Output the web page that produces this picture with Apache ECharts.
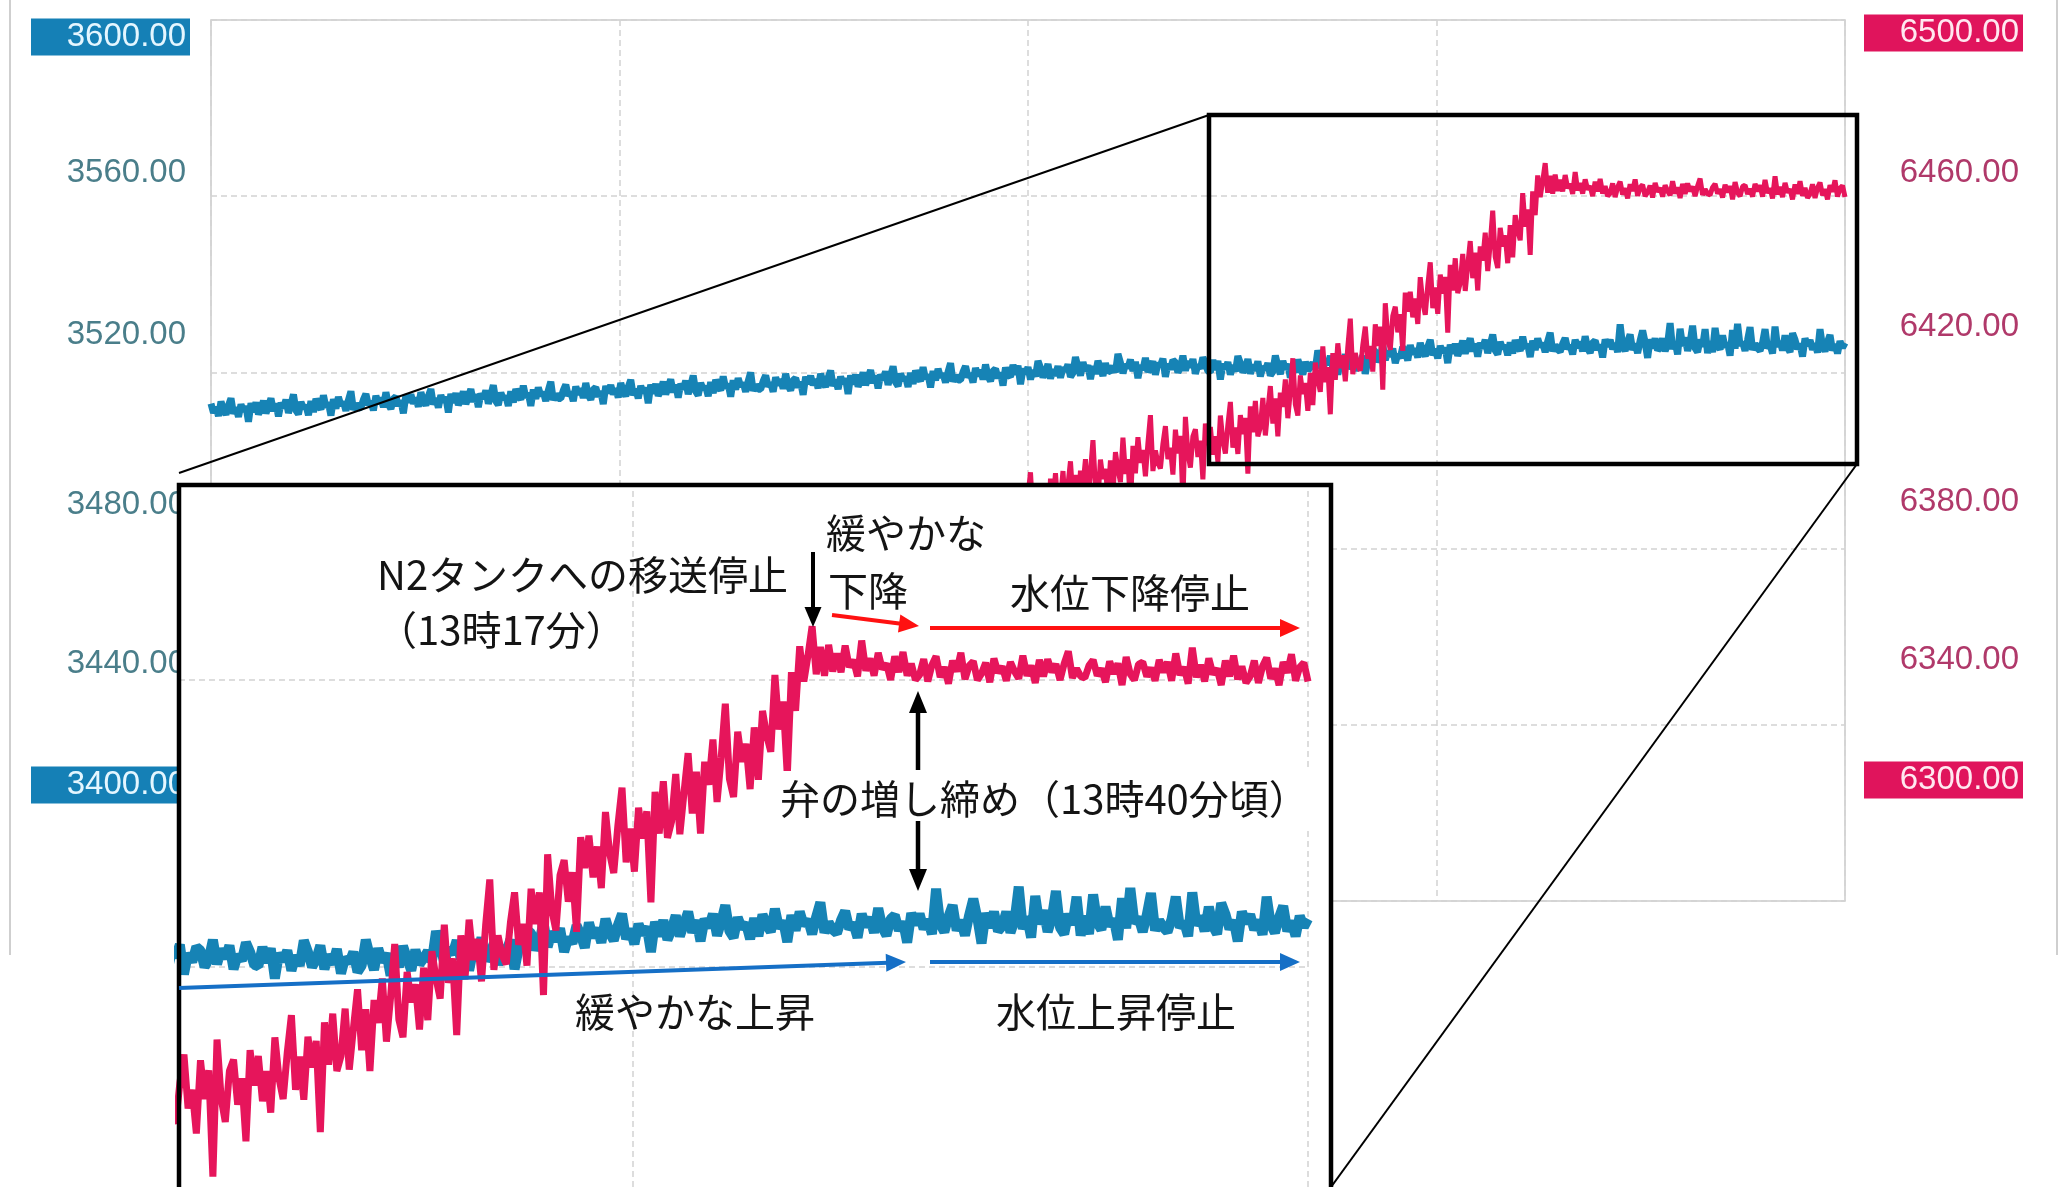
<!DOCTYPE html>
<html><head><meta charset="utf-8">
<script src="https://cdn.jsdelivr.net/npm/echarts@6/dist/echarts.min.js"></script>
<style>html,body{margin:0;padding:0;background:#fff;}#c{width:2069px;height:1187px;}</style>
</head><body><div id="c"></div>
<script>
// ---------- data ----------
const leftTicks  = ['3400.00','3440.00','3480.00','3520.00','3560.00','3600.00'];
const rightTicks = ['6300.00','6340.00','6380.00','6420.00','6460.00','6500.00'];
const leftRange  = [3400, 3600];
const rightRange = [6300, 6500];

// blue trace (left axis), one sample per time step 0..654
const blueLevel = [
3512.9,3510.8,3512.1,3510.1,3513.4,3511.5,3510.4,3512.5,3514.1,3510.6,3512.0,3509.9,3512.7,3511.2,3512.3,3508.8,3513.0,3511.0,3513.2,3510.5,
3511.6,3513.6,3510.7,3512.4,3514.1,3511.2,3512.9,3510.0,3513.1,3511.9,3513.8,3510.8,3512.7,3515.0,3511.4,3510.5,3513.3,3511.8,3512.5,3510.3,
3513.5,3511.0,3514.0,3512.6,3511.6,3514.8,3512.1,3513.1,3510.2,3513.9,3511.8,3514.4,3512.5,3513.3,3511.3,3513.7,3515.7,3511.5,3512.9,3511.9,
3512.0,3513.8,3515.1,3512.6,3513.4,3511.4,3514.7,3512.9,3514.2,3512.1,3515.5,3512.8,3511.7,3514.0,3514.5,3512.4,3513.6,3510.7,3514.8,3513.2,
3515.0,3512.9,3514.2,3512.2,3515.5,3513.6,3512.5,3514.6,3516.2,3512.7,3514.1,3512.0,3514.8,3513.3,3514.4,3510.9,3515.1,3513.1,3515.3,3512.6,
3513.7,3515.7,3512.8,3514.5,3516.2,3513.3,3515.0,3512.1,3515.2,3514.0,3515.9,3512.9,3514.8,3517.1,3513.5,3512.6,3515.4,3513.9,3514.6,3512.4,
3515.7,3513.2,3516.2,3514.8,3513.8,3517.0,3514.3,3515.3,3512.4,3516.1,3514.0,3516.6,3514.7,3515.5,3513.5,3515.9,3517.9,3513.7,3515.1,3514.1,
3514.1,3515.9,3517.2,3514.7,3515.5,3513.5,3516.8,3515.0,3516.3,3514.2,3517.6,3514.9,3513.8,3516.1,3516.6,3514.5,3515.7,3512.8,3516.9,3515.3,
3517.1,3515.0,3516.3,3514.3,3517.6,3515.7,3514.6,3516.7,3518.3,3514.8,3516.2,3514.1,3516.9,3515.4,3516.5,3513.0,3517.2,3515.2,3517.4,3514.7,
3515.9,3517.9,3515.0,3516.7,3518.4,3515.5,3517.2,3514.3,3517.4,3516.2,3518.1,3515.1,3517.0,3519.3,3515.7,3514.8,3517.6,3516.1,3516.8,3514.6,
3517.8,3515.3,3518.3,3516.9,3515.9,3519.1,3516.4,3517.4,3514.5,3518.2,3516.1,3518.7,3516.8,3517.6,3515.6,3518.0,3520.0,3515.8,3517.2,3516.2,
3516.2,3518.0,3519.3,3516.8,3517.6,3515.6,3518.9,3517.1,3518.4,3516.3,3519.7,3517.0,3515.9,3518.2,3518.7,3516.6,3517.8,3514.9,3519.0,3517.4,
3519.2,3517.1,3518.4,3516.4,3519.7,3517.8,3516.7,3518.8,3520.4,3516.9,3518.3,3516.2,3519.0,3517.5,3518.6,3515.1,3519.3,3517.3,3519.5,3516.8,
3518.0,3520.0,3517.1,3518.8,3520.5,3517.6,3519.3,3516.4,3519.5,3518.3,3520.2,3517.2,3519.1,3521.4,3517.8,3516.9,3519.7,3518.2,3518.9,3516.7,
3519.9,3517.4,3520.4,3519.0,3518.0,3521.2,3518.5,3519.5,3516.6,3520.3,3518.2,3520.8,3518.9,3519.7,3517.7,3520.1,3522.1,3517.9,3519.3,3518.3,
3518.3,3520.1,3521.4,3518.9,3519.7,3517.7,3521.0,3519.2,3520.5,3518.4,3521.8,3519.1,3518.0,3520.3,3520.8,3518.7,3519.9,3517.0,3521.1,3519.5,
3519.0,3521.7,3519.5,3521.5,3517.3,3520.8,3519.7,3521.2,3518.4,3520.5,3519.1,3522.6,3521.0,3518.9,3520.0,3521.9,3518.6,3520.6,3519.3,3521.4,
3518.8,3521.0,3520.3,3521.8,3519.0,3519.9,3523.5,3521.2,3519.3,3522.3,3520.4,3521.6,3518.5,3521.4,3519.7,3522.6,3520.9,3519.2,3522.1,3520.1,
3520.4,3521.4,3520.0,3524.2,3522.2,3519.8,3521.8,3521.0,3522.9,3520.3,3522.4,3518.7,3521.6,3520.6,3523.3,3520.1,3521.1,3522.5,3519.5,3522.0,
3521.5,3523.1,3519.0,3521.9,3520.7,3522.8,3522.3,3520.0,3521.1,3523.8,3520.4,3522.5,3521.2,3523.0,3519.7,3521.7,3520.9,3523.4,3522.1,3520.3,
3520.1,3522.8,3520.6,3522.6,3518.4,3521.9,3520.8,3522.3,3519.5,3521.6,3520.2,3523.7,3522.1,3520.0,3521.1,3523.0,3519.7,3521.7,3520.4,3522.5,
3519.1,3521.3,3520.6,3522.1,3519.3,3520.2,3523.8,3521.5,3519.6,3522.6,3520.7,3521.9,3518.8,3521.7,3520.0,3522.9,3521.2,3519.5,3522.4,3520.4,
3521.2,3522.2,3520.8,3525.0,3523.0,3520.6,3522.6,3521.8,3523.7,3521.1,3523.2,3519.5,3522.4,3521.4,3524.1,3520.9,3521.9,3523.3,3520.3,3522.8,
3522.2,3523.8,3519.7,3522.6,3523.1,3525.2,3524.7,3522.4,3523.5,3526.2,3522.8,3524.9,3523.6,3525.4,3522.1,3524.1,3523.3,3525.8,3524.5,3522.7,
3526.2,3524.1,3525.4,3523.4,3526.7,3524.8,3523.7,3525.8,3527.4,3523.9,3525.3,3523.2,3526.0,3524.5,3525.6,3522.1,3526.3,3524.3,3526.5,3523.8,
3525.2,3527.2,3524.3,3526.0,3527.7,3524.8,3526.5,3523.6,3526.7,3525.5,3527.4,3524.4,3526.3,3528.6,3525.0,3524.1,3526.9,3525.4,3526.1,3523.9,
3526.8,3524.3,3527.3,3525.9,3524.9,3528.1,3525.4,3526.4,3523.5,3527.2,3525.1,3527.7,3525.8,3526.6,3524.6,3527.0,3529.0,3524.8,3526.2,3525.2,
3524.7,3526.5,3527.8,3525.3,3526.1,3524.1,3527.4,3525.6,3526.9,3524.8,3528.2,3525.5,3524.4,3526.7,3527.2,3525.1,3526.3,3523.4,3527.5,3525.9,
3527.4,3525.3,3526.6,3524.6,3530.9,3526.0,3524.9,3527.0,3528.6,3525.1,3526.5,3524.4,3527.2,3529.5,3526.8,3523.3,3527.5,3525.5,3527.7,3525.0,
3525.7,3527.7,3524.8,3526.5,3531.2,3525.3,3527.0,3524.1,3529.9,3526.0,3527.9,3524.9,3526.8,3530.6,3525.5,3524.6,3527.4,3525.9,3529.8,3524.4,
3527.1,3524.6,3530.1,3526.2,3525.2,3528.4,3525.7,3526.7,3523.8,3529.6,3525.4,3531.0,3526.1,3526.9,3524.9,3527.3,3530.3,3525.1,3526.5,3525.5,
3524.9,3526.7,3529.8,3525.5,3526.3,3524.3,3530.4,3525.8,3527.1,3525.0,3528.4,3525.7,3524.6,3528.9,3527.4,3525.3,3526.5,3523.6,3527.7,3526.1,
3527.3,3525.2,3526.5,3524.5,3529.8,3525.9,3524.8,3526.9,3528.5,3525.0,3526.4,3524.3,3527.1,3525.6,3526.7
];

// red trace (right axis), starts at time step 320
const redStart = 320;
const redLevel = [
6391.7,6385.6,6389.7,6383.9,6394.3,6388.6,6385.6,6392.2,6397.3,6386.9,6391.4,6385.4,6394.1,6389.8,6393.4,6380.7,6395.9,6390.1,6397.1,6389.1,
6391.1,6397.6,6388.9,6394.5,6399.8,6391.2,6396.7,6388.0,6397.7,6394.3,6400.3,6391.4,6397.4,6404.6,6393.9,6391.2,6400.2,6395.8,6398.1,6391.6,
6400.0,6392.5,6401.9,6398.0,6395.1,6405.2,6397.0,6400.3,6389.5,6403.3,6397.1,6405.3,6399.5,6402.4,6396.4,6404.0,6410.3,6397.6,6402.3,6399.4,
6398.2,6403.8,6407.8,6400.3,6402.9,6396.8,6407.0,6401.6,6405.6,6390.8,6409.9,6401.7,6398.4,6405.5,6407.1,6400.8,6404.5,6395.7,6408.4,6403.5,
6407.6,6401.3,6405.5,6399.7,6410.2,6404.5,6401.6,6408.1,6413.3,6402.9,6407.5,6401.5,6410.3,6406.0,6409.7,6397.0,6412.3,6406.4,6413.5,6405.5,
6407.6,6414.2,6405.7,6411.4,6416.9,6408.4,6414.1,6405.5,6415.4,6412.2,6418.4,6409.6,6415.8,6423.2,6412.7,6410.2,6419.3,6415.1,6417.6,6411.3,
6419.9,6412.6,6422.2,6418.4,6415.6,6425.9,6417.8,6421.2,6410.5,6424.4,6418.3,6426.6,6421.0,6423.9,6418.0,6425.8,6432.2,6419.6,6424.4,6421.6,
6420.4,6426.2,6430.4,6423.1,6426.0,6420.2,6430.9,6426.0,6430.4,6416.1,6435.7,6428.0,6425.1,6432.8,6434.9,6429.1,6433.2,6424.9,6438.1,6433.8,
6438.3,6432.5,6436.8,6431.0,6441.6,6435.9,6433.1,6439.7,6445.0,6434.6,6439.3,6433.3,6442.2,6437.9,6441.7,6429.0,6444.4,6438.6,6445.9,6438.0,
6440.3,6446.9,6438.5,6444.3,6449.8,6441.4,6447.2,6438.6,6448.6,6445.4,6451.7,6443.0,6449.2,6456.7,6446.2,6443.7,6452.8,6448.6,6451.1,6444.8,
6453.4,6446.1,6455.7,6452.3,6450.0,6460.7,6453.1,6457.0,6446.7,6461.1,6455.7,6464.7,6459.8,6463.4,6467.5,6460.8,6464.6,6460.6,6464.9,6461.2,
6463.7,6461.1,6464.8,6461.8,6462.8,6460.5,6465.5,6461.3,6463.0,6460.6,6463.8,6461.5,6462.3,6460.0,6463.3,6461.1,6463.9,6460.6,6462.3,6460.0,
6460.7,6462.9,6459.8,6462.1,6463.3,6460.4,6461.8,6459.5,6462.7,6461.2,6463.8,6460.1,6462.0,6462.6,6460.0,6460.9,6462.4,6459.7,6463.0,6461.0,
6461.9,6459.9,6462.5,6461.2,6460.2,6463.4,6460.6,6462.0,6459.6,6462.8,6460.5,6462.9,6461.1,6462.2,6460.0,6462.3,6464.0,6460.3,6461.6,6460.5,
6460.3,6462.0,6462.8,6460.6,6461.6,6459.7,6462.6,6460.9,6462.3,6459.3,6463.2,6460.8,6460.0,6462.2,6462.5,6460.5,6461.7,6459.9,6462.8,6461.1,
6462.5,6459.9,6463.7,6460.7,6461.8,6459.5,6464.5,6460.4,6462.1,6459.8,6463.0,6460.8,6461.6,6459.3,6462.7,6460.5,6463.4,6460.1,6461.9,6459.6,
6460.5,6462.7,6459.6,6461.9,6463.1,6460.2,6461.6,6459.3,6462.5,6461.0,6463.6,6459.9,6461.8,6462.4,6459.8
];

const timeMax = 654;              // last time step
const timeGrid = 163.5;           // vertical grid spacing (time steps)
const insetTime = [380.8, 654];   // time window shown in the magnified inset
const insetLeft = [3489.34, 3587.18];
const insetRight = [6389.34, 6487.18];
const insetGridLeft = [3520, 3560];

const texts = {
  stop: 'N2タンクへの移送停止', stopTime: '（13時17分）',
  slowA: '緩やかな', slowB: '下降', lvlDownStop: '水位下降停止',
  valve: '弁の増し締め（13時40分頃）',
  slowUp: '緩やかな上昇', lvlUpStop: '水位上昇停止'
};

// ---------- styling ----------
const BLUE = '#1683b5', RED = '#e6155b';
const GRIDC = '#d2d2d2';
const numFont = '"Liberation Sans", Arial, sans-serif';
const jpFont = '"Noto Sans CJK JP", "Noto Sans CJK SC", sans-serif';

const bluePairs = blueLevel.map((v, i) => [i, v]);
const redPairs = redLevel.map((v, i) => [redStart + i, v]);

function richSet(offsets, boxed, txtColor, boxColor, boxTxt) {
  const r = {};
  offsets.forEach((d, i) => {
    const isBox = boxed.includes(i);
    r['s' + i] = {
      fontSize: 33, fontFamily: numFont, lineHeight: 33,
      color: isBox ? boxTxt : txtColor,
      backgroundColor: isBox ? boxColor : 'transparent',
      width: 155, align: 'right',
      padding: [2 + Math.max(0, 2 * d), 4, 2 + Math.max(0, -2 * d), 0]
    };
  });
  return r;
}
const leftRich = richSet([0, 29, 19, -1, -14, 0], [0, 5], '#4a7e8a', '#1580b6', '#e4f6ff');
const rightRich = richSet([0, 29, 21, -5, -9, 0], [0, 5], '#b0396a', '#e0145c', '#ffe8f0');

const dashed = {show: true, lineStyle: {color: GRIDC, type: [6, 4], width: 1.5}};

function arrow(x1, y1, x2, y2, color, w, hl, hw) {
  const dx = x2 - x1, dy = y2 - y1, L = Math.hypot(dx, dy), ux = dx / L, uy = dy / L;
  const bx = x2 - ux * hl, by = y2 - uy * hl;
  return [
    {type: 'line', z: 100, shape: {x1, y1, x2: bx + ux * 2, y2: by + uy * 2}, style: {stroke: color, lineWidth: w}},
    {type: 'polygon', z: 100, shape: {points: [[x2, y2], [bx - uy * hw / 2, by + ux * hw / 2], [bx + uy * hw / 2, by - ux * hw / 2]]}, style: {fill: color}}
  ];
}
function label(x, y, text, extra) {
  return Object.assign({type: 'text', x, y, z: 100,
    style: Object.assign({text, font: '40px ' + jpFont, fill: '#141414', textAlign: 'left', textVerticalAlign: 'middle'}, extra || {})});
}

const graphics = [
  {type: 'line', z: 1, shape: {x1: 10, y1: 0, x2: 10, y2: 955}, style: {stroke: '#cfcfcf', lineWidth: 2}},
  {type: 'line', z: 1, shape: {x1: 2057, y1: 0, x2: 2057, y2: 955}, style: {stroke: '#cfcfcf', lineWidth: 2}},
  {type: 'rect', z: 60, shape: {x: 1209, y: 115, width: 648, height: 349}, style: {fill: null, stroke: '#000', lineWidth: 4.5}},
  {type: 'line', z: 60, shape: {x1: 1209, y1: 115, x2: 179, y2: 473}, style: {stroke: '#000', lineWidth: 2}},
  {type: 'line', z: 60, shape: {x1: 1857, y1: 464, x2: 1331, y2: 1187}, style: {stroke: '#000', lineWidth: 2}},
  {type: 'rect', z: 4, shape: {x: 179, y: 485, width: 1152, height: 720}, style: {fill: '#fff'}},
  {type: 'rect', z: 60, shape: {x: 179, y: 485, width: 1152, height: 720}, style: {fill: null, stroke: '#000', lineWidth: 4.5}},
  label(377, 575, texts.stop),
  label(377, 630, texts.stopTime),
  label(826, 533, texts.slowA),
  label(828, 591, texts.slowB),
  label(1010, 593, texts.lvlDownStop),
  label(776, 799, texts.valve, {backgroundColor: '#fff', padding: [8, 6, 8, 4]}),
  label(575, 1012, texts.slowUp),
  label(996, 1012, texts.lvlUpStop),
  ...arrow(813, 552, 813, 627, '#000', 4, 20, 17),
  ...arrow(832, 615, 919, 626, '#ff1111', 4, 20, 18),
  ...arrow(930, 628, 1300, 628, '#ff1111', 4, 20, 18),
  ...arrow(179, 988, 906, 962, '#156fc6', 4, 20, 18),
  ...arrow(930, 962, 1300, 962, '#156fc6', 4, 20, 18),
  ...arrow(918, 770, 918, 691, '#000', 4.5, 22, 18),
  ...arrow(918, 821, 918, 891, '#000', 4.5, 22, 18)
];

const option = {
  animation: false,
  backgroundColor: '#fff',
  grid: [
    {left: 211, right: 224, top: 20, bottom: 286, show: true, borderColor: '#cbcbcb', borderWidth: 1.5},
    {left: 211, right: 224, top: 37, height: 748},
    {left: 211, right: 224, top: 33, height: 747},
    {left: 179, right: 761, top: 485, bottom: 0}
  ],
  xAxis: [
    {gridIndex: 0, type: 'value', min: 0, max: timeMax, interval: timeGrid,
     axisLine: {show: false}, axisTick: {show: false}, axisLabel: {show: false}, splitLine: dashed},
    {gridIndex: 1, type: 'value', min: 0, max: 1, show: false},
    {gridIndex: 2, type: 'value', min: 0, max: 1, show: false},
    {gridIndex: 3, type: 'value', min: insetTime[0], max: insetTime[1], show: false}
  ],
  yAxis: [
    {gridIndex: 0, type: 'value', min: leftRange[0], max: leftRange[1], interval: 40,
     axisLine: {show: false}, axisTick: {show: false}, axisLabel: {show: false}, splitLine: dashed},
    {gridIndex: 0, type: 'value', position: 'right', min: rightRange[0], max: rightRange[1], interval: 40, show: false},
    {gridIndex: 1, type: 'value', position: 'left', min: leftRange[0], max: leftRange[1], interval: 40,
     axisLine: {show: false}, axisTick: {show: false}, splitLine: {show: false},
     axisLabel: {margin: 21, rich: leftRich, formatter: (v, i) => '{s' + i + '|' + leftTicks[i] + '}'}},
    {gridIndex: 2, type: 'value', position: 'right', min: rightRange[0], max: rightRange[1], interval: 40,
     axisLine: {show: false}, axisTick: {show: false}, splitLine: {show: false},
     axisLabel: {margin: 19, rich: rightRich, formatter: (v, i) => '{s' + i + '|' + rightTicks[i] + '}'}},
    {gridIndex: 3, type: 'value', min: insetLeft[0], max: insetLeft[1], show: false},
    {gridIndex: 3, type: 'value', position: 'right', min: insetRight[0], max: insetRight[1], show: false}
  ],
  series: [
    {type: 'line', xAxisIndex: 0, yAxisIndex: 0, data: bluePairs, showSymbol: false, z: 2,
     lineStyle: {color: BLUE, width: 7, join: 'bevel'}, itemStyle: {color: BLUE}},
    {type: 'line', xAxisIndex: 0, yAxisIndex: 1, data: redPairs, showSymbol: false, z: 3,
     lineStyle: {color: RED, width: 5, join: 'bevel'}, itemStyle: {color: RED}},
    {type: 'line', xAxisIndex: 3, yAxisIndex: 4, data: [], showSymbol: false, z: 5,
     markLine: {silent: true, symbol: 'none', label: {show: false}, z: 5,
       lineStyle: {color: GRIDC, type: [6, 4], width: 1.5},
       data: [{yAxis: insetGridLeft[0]}, {yAxis: insetGridLeft[1]}, {xAxis: timeGrid * 3}, {xAxis: timeMax}]}},
    {type: 'line', xAxisIndex: 3, yAxisIndex: 4, data: bluePairs, showSymbol: false, z: 10,
     lineStyle: {color: BLUE, width: 10, join: 'bevel'}, itemStyle: {color: BLUE}},
    {type: 'line', xAxisIndex: 3, yAxisIndex: 5, data: redPairs, showSymbol: false, z: 11,
     lineStyle: {color: RED, width: 7, join: 'bevel'}, itemStyle: {color: RED}}
  ],
  graphic: {elements: graphics}
};

const chart = echarts.init(document.getElementById('c'), null, {renderer: 'canvas', width: 2069, height: 1187});
chart.setOption(option);
</script>
</body></html>
